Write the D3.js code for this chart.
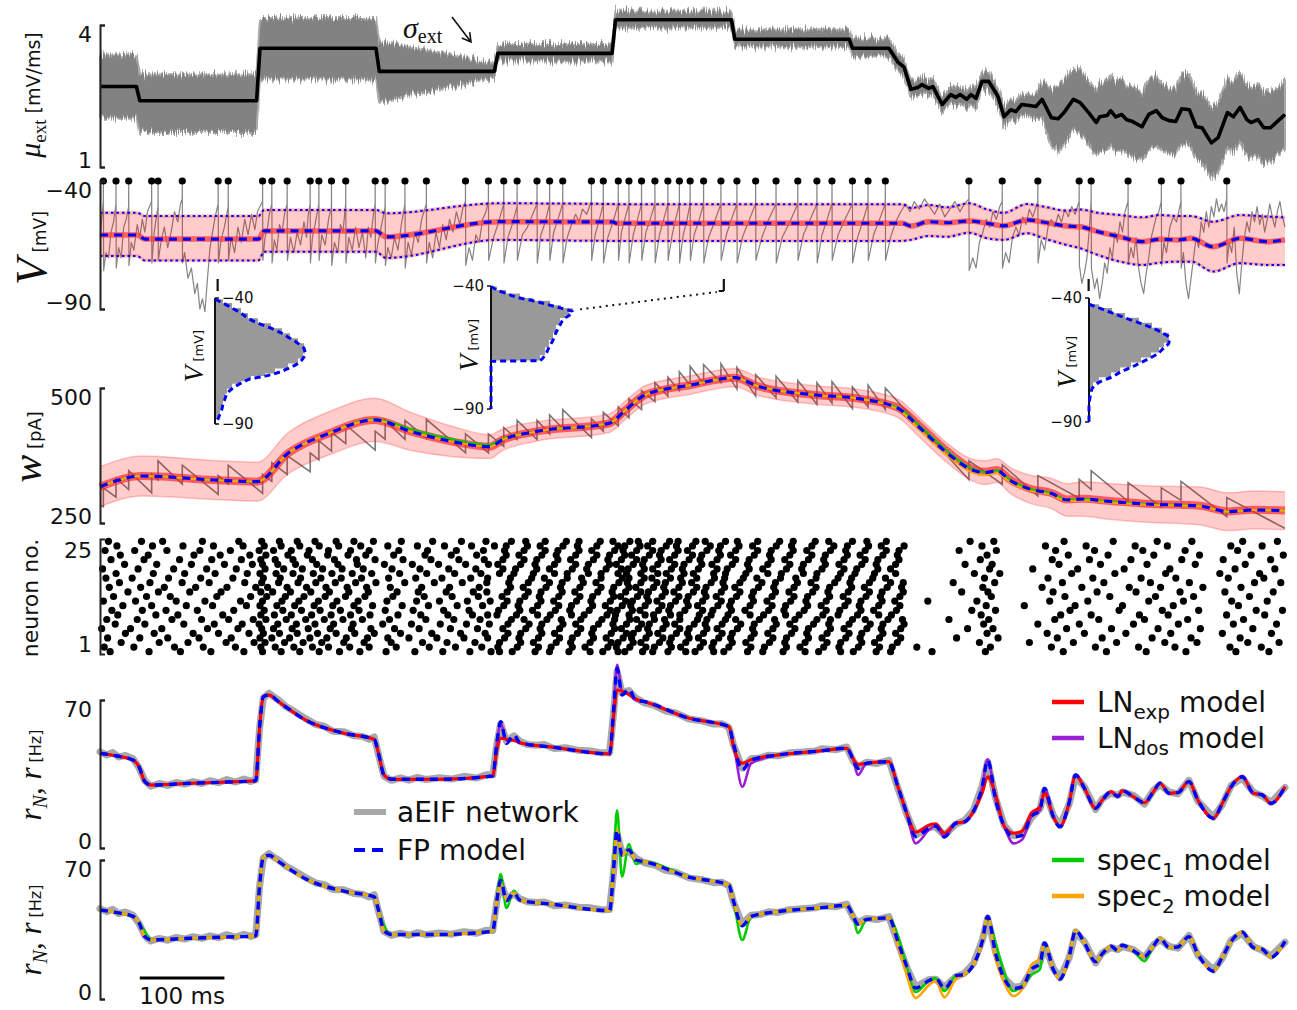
<!DOCTYPE html>
<html>
<head>
<meta charset="utf-8">
<title>aEIF network: input, membrane potential, adaptation, spikes and rates</title>
<script src="https://cdn.jsdelivr.net/npm/d3@7"></script>
<style>
  html, body { margin: 0; padding: 0; background: #fff; }
  svg { display: block; }
</style>
</head>
<body>
<svg id="fig" width="1297" height="1010">
  <defs>
    <!-- ragged vertical edges for the fast-fluctuating input band -->
    <filter id="ragged" x="-2%" y="-25%" width="104%" height="150%">
      <feTurbulence type="fractalNoise" baseFrequency="0.9 0.04" numOctaves="2" seed="7" result="t"/>
      <feColorMatrix in="t" type="matrix" values="0 0 0 0 0.5  0 1 0 0 0  0 0 1 0 0  0 0 0 0 1" result="m"/>
      <feDisplacementMap in="SourceGraphic" in2="m" scale="16" xChannelSelector="R" yChannelSelector="G"/>
    </filter>
  </defs>
</svg>
<script>
// ===================== data (time in ms) =====================

// external input: mean drive mu_ext [mV/ms] and the spread of the noisy input
const muT = [0,43,47,185,189,326,330,466,470,605,609,746,750,885,889,932,
  943,950,958,966,971,979,984,995,1005,1011,1016,1024,1029,1035,1042,1050,1061,1068,1076,1082,
  1089,1098,1106,1113,1124,1132,1139,1150,1158,1168,1177,1181,1190,1194,1200,1207,1213,1220,1231,1239,
  1248,1255,1263,1271,1278,1287,1295,1302,1313,1321,1332,1339,1347,1355,1360,1368,1375,1383,1392,1400];
const muMean = [2.70,2.70,2.40,2.40,3.51,3.51,3.02,3.02,3.40,3.40,4.11,4.11,3.70,3.70,3.51,3.51,
  3.21,3.11,2.64,2.68,2.74,2.66,2.70,2.32,2.53,2.47,2.53,2.43,2.53,2.45,2.81,2.81,2.49,2.06,2.21,2.17,
  2.32,2.30,2.28,2.43,2.04,2.02,2.15,2.43,2.36,2.15,1.94,2.06,2.09,2.19,2.06,2.11,2.00,1.96,1.85,2.11,
  2.19,2.04,1.98,1.96,2.23,2.21,1.85,1.83,1.51,1.62,2.15,2.06,2.26,2.00,1.94,2.00,1.83,1.83,1.98,2.11];
const muHi = [3.38,3.38,2.96,2.96,4.15,4.15,3.66,3.21,3.60,3.60,4.30,4.30,3.91,3.91,3.72,3.72,
  3.39,3.29,2.82,2.86,2.92,2.84,2.88,2.50,2.71,2.65,2.71,2.61,2.71,2.63,3.01,3.01,2.69,2.28,2.43,2.39,
  2.54,2.55,2.55,2.83,2.64,2.72,2.85,3.08,3.04,2.85,2.64,2.81,2.84,2.94,2.81,2.86,2.70,2.71,2.55,2.86,
  2.94,2.74,2.68,2.66,2.98,2.96,2.55,2.58,2.26,2.37,2.90,2.81,3.01,2.75,2.69,2.75,2.58,2.58,2.68,2.86];
const muLo = [2.04,2.04,1.74,1.74,2.85,2.85,2.36,2.89,3.23,3.23,3.94,3.94,3.53,3.53,3.34,3.34,
  3.03,2.93,2.46,2.50,2.56,2.48,2.52,2.14,2.35,2.29,2.35,2.25,2.35,2.27,2.61,2.61,2.29,1.84,1.99,1.95,
  2.10,2.05,2.01,2.03,1.44,1.32,1.45,1.78,1.68,1.45,1.24,1.31,1.34,1.44,1.31,1.36,1.30,1.21,1.15,1.36,
  1.44,1.34,1.28,1.26,1.48,1.46,1.15,1.08,0.76,0.87,1.40,1.31,1.51,1.25,1.19,1.25,1.08,1.08,1.28,1.36];

// population membrane potential: mean and +/- one standard deviation [mV]
const vStatT = [0,44,53,187,194,326,338,471,606,610,948,958,979,1001,1027,1048,1068,1095,1115,1142,1158,1179,1205,1231,1252,1274,1289,1315,1347,1379,1400];
const vMean = [-61.1,-61.1,-62.7,-62.7,-59.5,-59.5,-61.8,-55.9,-56.0,-56.5,-56.5,-57.6,-55.9,-56.3,-55.6,-56.5,-57.5,-55.2,-56.1,-57.6,-57.9,-59.8,-61.8,-63.7,-62.8,-63.0,-62.4,-65.7,-62.4,-63.7,-63.0];
const vHi = [-52.4,-52.4,-53.7,-53.7,-51.3,-51.3,-52.6,-48.7,-49.0,-49.1,-49.1,-50.5,-49.4,-50.3,-48.7,-51.1,-52.4,-49.0,-50.0,-51.6,-51.1,-52.4,-53.3,-54.2,-53.3,-53.7,-53.7,-55.9,-53.3,-53.9,-54.2];
const vLo = [-69.3,-69.3,-71.1,-71.1,-67.6,-67.6,-70.1,-63.0,-63.4,-63.4,-63.4,-63.0,-61.5,-61.8,-60.2,-62.4,-63.0,-60.4,-62.4,-65.0,-66.3,-68.9,-71.5,-72.8,-71.9,-71.5,-71.5,-75.4,-72.1,-72.8,-72.8];

// one example neuron: spike times and membrane potential trace [ms, mV]
const vSpikes = [4.0,18.9,33.9,61.0,68.6,97.2,139.6,151.5,192.1,203.0,221.1,248.3,258.6,273.5,290.3,325.1,336.9,360.3,385.6,431.8,458.9,
  477.0,492.8,516.3,531.2,546.7,580.6,594.6,612.3,624.9,639.8,655.6,670.9,684.5,697.2,713.1,733.6,752.5,774.6,798.7,824.4,847.0,864.8,
  888.9,907.4,927.8,1026.6,1065.9,1108.0,1156.8,1171.0,1214.6,1253.9,1277.1,1331.2];
const vTrace = [
  [0,-62],[2,-55],[3.9,-48],[4,-40],[4.3,-75],[7,-68],[10,-70],[13,-60],[16,-56],[18.8,-49],[18.9,-40],[19.2,-74],[22,-66],[25,-70],[28,-58],[31,-55],[33.8,-50],[33.9,-40],
  [34.2,-73],[37,-64],[40,-67],[44,-57],[47,-62],[50,-55],[53,-60],[56,-52],[60.9,-48],[61,-40],[61.3,-72],[64,-60],[68.5,-50],[68.6,-40],[68.9,-71],[72,-64],[76,-58],
  [80,-66],[84,-60],[88,-52],[92,-56],[95,-49],[97.1,-47],[97.2,-40],[97.5,-72],[100,-68],[104,-78],[108,-74],[112,-84],[115,-80],[118,-90],[121,-86],[124,-91],[127,-78],
  [130,-66],[133,-60],[136,-54],[139.5,-49],[139.6,-40],[139.9,-72],[143,-63],[147,-58],[151.4,-50],[151.5,-40],[151.8,-71],[155,-62],[159,-68],[163,-58],[167,-64],
  [171,-55],[175,-61],[179,-53],[183,-59],[186,-52],[189,-50],[192,-48],[192.1,-40],
  [192.4,-71],[195,-62],[198,-58],[200,-53],[202.9,-49],[203,-40],[203.3,-72],[206,-63],[209,-67],[212,-57],[215,-60],[218,-53],[221,-49],[221.1,-40],[221.4,-71],
  [225,-62],[229,-68],[233,-60],[237,-65],[241,-56],[244,-62],[246,-53],[248.2,-49],[248.3,-40],[248.6,-72],[251,-62],[254,-57],[258.5,-49],[258.6,-40],[258.9,-71],
  [262,-61],[266,-65],[270,-55],[273.4,-50],[273.5,-40],[273.8,-73],[277,-64],[281,-68],[284,-57],[287,-60],[290.2,-49],[290.3,-40],[290.6,-72],[294,-62],[298,-67],
  [302,-58],[306,-66],[310,-60],[314,-70],[317,-58],[320,-62],[323,-53],[325,-49],[325.1,-40],
  [325.4,-72],[328,-65],[331,-60],[334,-55],[336.8,-50],[336.9,-40],[337.2,-73],[340,-66],[344,-70],[348,-62],[352,-67],[356,-57],[360.2,-49],[360.3,-40],[360.6,-74],
  [364,-64],[368,-69],[372,-60],[376,-64],[380,-55],[385.5,-49],[385.6,-40],[385.9,-72],[389,-64],[393,-70],[397,-60],[401,-66],[405,-57],[409,-63],[413,-55],[417,-60],
  [421,-52],[425,-57],[429,-50],[431.7,-48],[431.8,-40],[432.1,-73],[436,-66],[440,-71],[444,-61],[448,-64],[452,-55],[456,-52],[458.8,-48],[458.9,-40],
  [459.2,-71],[465,-62],[471,-56],[476.9,-49],[477,-40],[477.3,-72],[482,-62],[487,-57],[492.7,-50],[492.8,-40],[493.1,-71],[499,-61],[505,-58],[510,-54],[516.2,-49],[516.3,-40],
  [516.6,-72],[521,-61],[526,-56],[531.1,-49],[531.2,-40],[531.5,-71],[536,-60],[541,-55],[546.6,-49],[546.7,-40],[547,-72],[552,-62],[557,-57],[562,-53],[566,-56],
  [570,-51],[575,-53],[580.5,-48],[580.6,-40],[580.9,-71],[585,-61],[590,-55],[594.5,-49],[594.6,-40],[594.9,-72],[600,-62],[606,-56],[612.2,-49],[612.3,-40],
  [612.6,-71],[616,-60],[620,-55],[624.8,-49],[624.9,-40],[625.2,-72],[630,-61],[635,-55],[639.7,-49],[639.8,-40],[640.1,-71],[645,-60],[650,-55],[655.5,-49],[655.6,-40],
  [655.9,-72],[661,-61],[666,-55],[670.8,-49],[670.9,-40],[671.2,-71],[676,-61],[680,-55],[684.4,-49],[684.5,-40],[684.8,-72],[689,-61],[693,-56],[697.1,-49],[697.2,-40],
  [697.5,-71],[702,-61],[708,-55],[713,-49],[713.1,-40],[713.4,-72],[719,-62],[726,-56],[733.5,-49],[733.6,-40],[733.9,-71],[740,-61],[746,-55],[752.4,-49],[752.5,-40],
  [752.8,-72],[759,-62],[766,-56],[774.5,-49],[774.6,-40],[774.9,-71],[782,-62],[790,-55],[798.6,-49],[798.7,-40],[799,-72],[806,-62],[815,-56],[824.3,-49],[824.4,-40],
  [824.7,-71],[831,-61],[839,-55],[846.9,-49],[847,-40],[847.3,-72],[853,-61],[859,-55],[864.7,-49],[864.8,-40],[865.1,-71],[872,-61],[880,-55],[888.8,-49],[888.9,-40],
  [889.2,-72],[895,-62],[901,-56],[907.3,-49],[907.4,-40],[907.7,-71],[914,-61],[921,-55],[927.7,-49],[927.8,-40],
  [928.1,-71],[934,-62],[940,-56],[946,-52],[952,-49],[957,-52],[962,-48],[968,-51],[974,-47],[980,-50],[986,-53],[992,-49],[998,-54],[1004,-51],[1010,-48],[1016,-52],
  [1021,-49],[1026.5,-47],[1026.6,-40],[1026.9,-75],[1031,-70],[1035,-74],[1039,-64],[1043,-60],[1047,-55],[1051,-58],[1055,-52],[1059,-55],[1063,-50],[1065.8,-48],[1065.9,-40],
  [1066.2,-74],[1070,-68],[1074,-72],[1078,-62],[1082,-58],[1086,-61],[1090,-54],[1094,-57],[1098,-51],[1102,-54],[1107.9,-48],[1108,-40],
  [1108.3,-72],[1112,-63],[1116,-67],[1120,-58],[1124,-55],[1128,-58],[1132,-53],[1136,-56],[1140,-51],[1144,-54],[1148,-50],[1152,-53],[1156.7,-48],[1156.8,-40],
  [1157.1,-73],[1160,-80],[1163,-76],[1166,-70],[1169,-58],[1170.9,-48],[1171,-40],
  [1171.3,-74],[1175,-82],[1178,-78],[1181,-86],[1184,-80],[1187,-72],[1190,-76],[1193,-66],[1196,-70],[1199,-60],[1202,-64],[1205,-56],[1208,-60],[1211,-52],[1214.5,-48],[1214.6,-40],
  [1214.9,-72],[1218,-66],[1221,-70],[1224,-62],[1227,-74],[1230,-80],[1233,-84],[1236,-76],[1239,-70],[1242,-62],[1245,-58],[1248,-54],[1251,-52],[1253.8,-48],[1253.9,-40],
  [1254.2,-73],[1257,-64],[1260,-68],[1264,-58],[1268,-54],[1272,-56],[1277,-48],[1277.1,-40],
  [1277.4,-74],[1280,-68],[1283,-80],[1286,-86],[1289,-78],[1292,-70],[1295,-62],[1298,-66],[1301,-56],[1304,-60],[1307,-52],[1310,-58],[1313,-50],[1316,-54],[1319,-47],
  [1322,-52],[1325,-49],[1328,-52],[1331.1,-47],[1331.2,-40],
  [1331.5,-72],[1334,-64],[1337,-68],[1340,-58],[1343,-76],[1346,-84],[1349,-72],[1352,-62],[1355,-56],[1358,-60],[1361,-52],[1364,-56],[1367,-50],[1370,-57],[1373,-53],
  [1376,-60],[1379,-55],[1382,-49],[1385,-54],[1388,-58],[1391,-52],[1394,-48],[1397,-54],[1400,-58]
];

// membrane-potential distributions at three snapshot times (density per mV)
const snapshotT = [139, 737, 1168];
const histV1 = [-40.5,-42,-44,-46,-48,-50,-52,-54,-56,-58,-60,-62,-64,-66,-68,-70,-71,-72,-73,-74,-76,-78,-80,-82,-84,-86,-88,-90];
const histP1 = [0,.008,.017,.026,.033,.043,.056,.067,.075,.083,.089,.090,.088,.083,.073,.060,.050,.036,.030,.025,.017,.012,.010,.008,.007,.005,.003,0];
const histV2 = [-40.2,-41.6,-43,-44.9,-46,-47.8,-49,-50.6,-52,-53,-55.9,-59,-62,-65,-68.1,-70.3,-70.6,-90];
const histP2 = [0,.006,.015,.029,.042,.059,.070,.082,.078,.074,.069,.065,.062,.058,.054,.049,0,0];
const histV3 = [-42.5,-44,-46,-48,-50,-52,-54,-56,-58,-60,-62,-64,-66,-68,-70,-72,-74,-76,-78,-80,-84,-90];
const histP3 = [0,.010,.023,.036,.050,.063,.073,.080,.080,.075,.070,.062,.052,.042,.031,.022,.010,.004,.002,.001,0,0];

// adaptation current w [pA]: population mean (per model), spread, and the example neuron
const wT = [0,49.6,134.7,185.5,222.1,270.6,324.3,368.0,416.7,460.4,475.0,514.0,601.4,620.9,643.9,698.3,749.9,776.7,845.1,893.9,
  942.8,967.2,1001.3,1030.6,1045.3,1059.8,1074.6,1098.8,1123.4,1142.5,1162.6,1186.8,1235.8,1299.2,1333.3,1362.3,1400];
const wMean = [317.2,337.0,329.6,326.5,379.1,416.1,440.8,419.1,400.6,391.3,403.7,419.1,434.6,459.3,487.1,505.6,519.1,503.7,487.1,480.9,
  462.4,428.3,379.1,348.2,343.2,346.9,329.6,312.4,305.0,292.6,294.4,290.7,285.2,281.5,270.9,274.1,272.8];
const wHi = [354.2,374.0,365.6,362.5,417.1,456.1,480.8,454.1,428.6,413.3,423.7,437.1,451.6,476.3,504.1,522.6,536.1,520.7,504.1,497.9,
  479.4,446.3,397.1,368.2,365.2,368.9,353.6,338.4,333.0,322.6,326.4,323.7,319.2,316.5,305.9,309.1,307.8];
const wLo = [280.2,300.0,293.6,290.5,341.1,376.1,400.8,384.1,372.6,369.3,383.7,401.1,417.6,442.3,470.1,488.6,502.1,486.7,470.1,463.9,
  445.4,410.3,361.1,328.2,321.2,324.9,305.6,286.4,277.0,262.6,262.4,257.7,251.2,246.5,235.9,239.1,237.8];
const wLNexp = [317.2,337.0,329.6,326.5,379.1,416.1,440.8,419.1,400.6,391.3,403.7,419.1,434.6,459.3,487.1,505.6,519.1,503.7,487.1,480.9,
  463.5,431.5,382.5,350.0,344.8,348.0,331.0,313.5,306.0,293.5,295.0,291.5,285.8,282.0,271.5,274.5,273.0];
const wSpec1 = [317.2,337.0,329.6,326.5,379.1,416.1,442.3,423.5,405.0,395.0,405.5,419.1,434.6,459.3,487.1,505.6,519.1,503.7,487.1,480.9,
  463.5,432.0,383.0,350.5,344.5,347.5,330.5,313.0,305.5,293.0,294.4,290.7,285.2,281.5,270.9,274.1,272.8];
const wSpec2 = [317.2,337.0,329.6,326.5,379.1,416.1,440.8,419.1,400.6,391.3,403.7,419.1,434.6,459.3,487.1,505.6,519.1,503.7,487.1,480.9,
  461.0,424.0,374.5,343.5,338.5,342.5,326.0,309.5,302.5,290.5,292.0,288.8,284.0,281.0,270.9,274.1,272.8];
const wTrace = [[0,283],[4,280],[4,315],[18.9,298],[18.9,333],[33.9,312],[33.9,347],[61,306],[61,341],[68.6,330],[68.6,365],[97.2,322],[97.2,357],
  [139.6,303],[139.6,338],[151.5,322],[151.5,357],[192.1,305],[192.1,340],[203,327],[203,362],[221.1,340],[221.1,375],[248.3,345],[248.3,380],
  [258.6,367],[258.6,402],[273.5,383],[273.5,418],[290.3,397],[290.3,432],[325.1,385],[325.1,420],[336.9,405],[336.9,440],[360.3,405],[360.3,440],
  [385.6,407],[385.6,442],[431.8,380],[431.8,415],[458.9,380],[458.9,415],[477,392],[477,427],[492.8,405],[492.8,440],[516.3,405],[516.3,440],
  [531.2,415],[531.2,450],[546.7,425],[546.7,460],[580.6,408],[580.6,443],[594.6,420],[594.6,455],[612.3,430],[612.3,465],[624.9,445],[624.9,480],
  [639.8,460],[639.8,495],[655.6,475],[655.6,510],[670.9,485],[670.9,520],[684.5,495],[684.5,530],[697.2,505],[697.2,540],[713.1,508],[713.1,543],
  [733.6,510],[733.6,545],[752.5,498],[752.5,538],[774.6,485],[774.6,525],[798.7,482],[798.7,522],[824.4,474],[824.4,514],[847,470],[847,510],
  [864.8,472],[864.8,512],[888.9,462],[888.9,502],[907.4,465],[907.4,505],[927.8,460],[927.8,500],[1026.6,330],[1026.6,365],[1065.9,322],[1065.9,358],
  [1108,300],[1108,338],[1156.8,296],[1156.8,331],[1171,312],[1171,347],[1214.6,290],[1214.6,325],[1253.9,280],[1253.9,315],[1277.1,292],[1277.1,327],
  [1331.2,262],[1331.2,297],[1400,240]];

// spike times of 25 recorded neurons (neuron 1 first)
const rasterSpikes = [
  [12,58,95,131,170,192,214,236,259,283,307,338,372,405,437,462,472,487,514,531,554,579,594,612,620,641,653,671,692,703,725,737,765,783,807,833,849,875,890,917,934,983,1046,1138,1189,1236,1283,1342,1381],
  [5,40,88,122,160,190,207,229,251,270,295,318,350,389,420,451,470,493,518,533,558,573,600,610,626,645,655,675,686,709,723,743,769,785,811,827,855,873,896,921,936,965,1052,1124,1176,1227,1270,1335,1372],
  [25,70,104,149,182,195,218,240,262,288,312,344,381,410,443,472,497,512,539,556,579,604,612,630,639,661,673,692,713,725,747,763,791,809,833,859,875,900,915,942,1039,1098,1150,1201,1258,1296,1356,1393],
  [9,47,80,117,155,189,203,224,248,268,291,316,340,365,398,430,458,478,495,518,543,558,583,598,618,628,645,665,675,696,707,731,745,769,795,811,837,853,881,898,921,946,1012,1061,1131,1184,1243,1289,1347],
  [30,64,110,140,176,193,212,233,257,279,301,324,355,392,426,455,482,497,522,537,564,581,604,622,630,649,659,681,694,713,735,747,773,789,817,835,859,885,900,925,940,1048,1119,1163,1212,1265,1326,1384],
  [2,36,73,127,163,191,205,227,246,272,297,320,348,377,414,446,476,503,520,543,568,583,608,616,636,647,665,685,696,717,729,753,771,795,821,837,863,879,906,923,946,1025,1055,1142,1195,1250,1300,1362],
  [18,53,99,135,168,188,210,232,254,276,299,334,368,402,433,460,482,507,522,547,562,589,606,622,640,649,669,679,702,715,735,757,773,799,815,843,861,885,910,925,950,1044,1108,1157,1221,1274,1339,1390],
  [8,44,85,120,152,181,196,220,243,265,287,310,342,385,418,449,486,501,528,545,568,593,608,626,634,655,667,685,706,717,739,751,779,797,821,847,863,889,904,931,948,1003,1050,1128,1180,1234,1285,1351],
  [21,66,92,145,190,206,226,250,273,296,319,352,379,411,440,458,469,492,517,532,557,572,599,609,625,644,654,674,685,708,722,742,768,784,810,826,854,872,895,920,935,1041,1135,1171,1228,1262,1331,1376],
  [14,50,78,115,158,194,216,238,260,284,306,337,370,406,436,471,496,511,538,555,578,603,611,629,638,660,672,691,712,724,746,762,790,808,832,858,874,899,914,941,1030,1058,1146,1204,1255,1298,1366,1397],
  [27,61,102,133,173,189,209,230,253,275,300,322,357,388,422,452,477,494,517,542,557,582,597,617,627,644,664,674,695,706,730,744,768,794,810,836,852,880,897,920,945,1047,1092,1152,1208,1268,1345],
  [4,42,90,124,166,192,215,235,258,280,305,339,374,401,434,461,481,496,521,536,563,580,603,621,629,648,658,680,693,712,734,746,772,788,816,834,858,884,899,924,939,978,1036,1122,1167,1239,1280,1337,1379],
  [16,55,83,138,178,197,219,241,266,290,313,346,383,416,447,475,502,519,542,567,582,607,615,635,646,664,684,695,716,728,752,770,794,820,836,862,878,905,922,945,1053,1140,1193,1247,1292,1358],
  [33,69,106,143,190,204,225,249,271,294,317,351,376,409,441,457,481,506,521,546,561,588,605,621,639,648,668,678,701,714,734,756,772,798,814,842,860,884,909,924,949,1018,1049,1126,1178,1224,1276,1329,1386],
  [11,48,76,113,150,184,198,221,244,267,292,315,343,380,413,448,485,500,527,544,567,592,607,625,633,654,666,684,705,716,738,750,778,796,820,846,862,888,903,930,947,1043,1113,1160,1216,1253,1303,1348],
  [23,59,97,129,171,191,211,234,255,278,302,326,360,395,428,457,483,506,531,546,571,586,613,623,639,658,668,688,699,722,736,756,782,798,824,840,868,886,909,934,949,1008,1057,1137,1186,1241,1287,1364,1395],
  [7,38,81,119,157,193,213,237,261,285,309,341,373,404,438,458,485,510,525,552,569,592,617,625,643,652,674,686,705,726,738,760,776,804,822,846,872,888,913,928,1045,1120,1173,1230,1271,1333,1375],
  [19,63,100,136,174,189,208,228,252,274,298,321,354,386,419,450,472,489,512,537,552,577,592,612,622,639,659,669,690,701,725,739,763,789,805,831,847,875,892,915,940,1033,1063,1148,1199,1259,1323,1370],
  [3,45,87,126,161,195,217,239,263,286,311,345,378,412,444,476,491,516,531,558,575,598,616,624,643,653,675,688,707,729,741,767,783,811,829,853,879,894,919,934,1051,1102,1155,1210,1264,1341,1388],
  [29,67,108,147,180,192,210,231,256,281,304,336,369,400,432,459,470,497,514,537,562,577,602,610,630,641,659,679,690,711,723,747,765,789,815,831,857,873,900,917,940,1022,1054,1133,1182,1237,1294,1353],
  [13,52,94,132,167,190,207,228,251,277,303,325,358,391,424,454,476,501,516,541,556,583,600,616,634,643,663,673,696,709,729,751,767,793,809,837,855,879,904,919,944,1040,1125,1169,1218,1278,1327,1383],
  [24,57,111,142,177,196,222,245,269,293,314,347,384,415,445,480,495,522,539,562,587,602,620,628,649,661,679,700,711,733,745,773,791,815,841,857,883,898,925,942,1048,1144,1191,1245,1299,1360,1398],
  [6,41,79,118,154,188,205,226,247,270,296,318,353,387,421,453,478,501,526,541,566,581,608,618,634,653,663,683,694,717,731,751,777,793,819,835,863,881,904,929,944,1015,1059,1129,1175,1232,1282,1344],
  [20,62,98,134,169,194,214,236,259,282,308,340,375,407,439,466,480,505,520,547,564,587,612,620,638,647,669,681,700,721,733,755,771,799,817,841,867,883,908,923,950,1042,1117,1165,1223,1261,1336,1373],
  [10,49,74,121,164,191,212,233,254,279,300,323,356,393,427,456,486,503,526,551,566,591,606,626,636,653,673,683,704,715,739,753,777,803,819,845,861,889,906,929,1028,1056,1139,1197,1249,1290,1350,1391]
];

// population firing rate [Hz]: network (aEIF) and the reduced models
const netRate = [[0,45.5],[8,44],[15,45.2],[22,43],[30,43.8],[39,42.2],[46,38],[53,31.8],[60,29.2],[70,30.5],[80,29.6],[90,31],[100,30.2],[110,31.4],
  [120,30.5],[130,31.8],[140,30.9],[150,32.4],[160,31.2],[170,32.6],[178,31.5],[184,32.3],[188.6,57],[193,71],[199.7,73.2],[205,71.5],[211,70],[220,66.8],
  [230,64.5],[243,61.2],[255,58.4],[265,57.6],[275,55.2],[288,55],[300,53.1],[310,52.8],[318,51.4],[324,52.5],[329,44.2],[335.5,34],[344.5,32],[355,33.2],
  [365,32.1],[375,33.4],[385,32.4],[401,33.2],[415,32.6],[430,33.9],[445,33.1],[456,34.6],[464,34.5],[468.8,49],[473.4,58.8],[480.2,50.5],[489,53],[496,50.5],
  [505,49],[515,48.6],[525,48.9],[536.6,47],[550,47.4],[565,46.2],[580,45.9],[592,45],[602,45.1],[606.8,64],[610.9,83.5],[616.7,73.5],[624.9,74.5],[632.8,71],
  [643.2,68.6],[655,67.5],[668,64.8],[680,63.9],[695.8,61],[710,60.2],[725,58.6],[735,58.8],[743,57],[748.3,49],[758.8,37.8],[769.3,42.2],[780,42.6],[790,43.9],
  [800.8,43.6],[815,45],[830,45.4],[845,45.9],[853.3,47],[870,46.5],[882.2,47.8],[890,41],[895.3,38.4],[905.9,40.6],[918,40],[932,41.5],[942.6,28.4],[953.1,16],
  [963.6,6],[979.4,9.8],[987.3,10],[997.7,6],[1010.9,11.2],[1021.3,13],[1031.8,17.8],[1042.3,29.5],[1048.7,40.8],[1058.2,23.4],[1068.5,10.6],[1079.1,5.8],
  [1089.6,6.6],[1100.1,14.2],[1110.6,18.6],[1115.8,27.4],[1126.3,15.4],[1134.2,10.6],[1144.8,20.6],[1152.7,33.8],[1163.1,28.8],[1176.3,18.2],[1184.1,23.2],
  [1194.6,26],[1202.5,24.8],[1207.7,26.5],[1220.8,24.9],[1233.9,20.8],[1244.5,27.2],[1252.4,30],[1262.9,26.5],[1273.4,25.6],[1286.5,32],[1297,22.2],[1315.4,14.6],
  [1325.9,20.5],[1336.4,29.6],[1349.5,33.1],[1362.6,26.4],[1373.1,24.6],[1383.6,21.6],[1400,28.6]];

const rateT = [0,20,39,46,53,60,107,150,184,188.6,193,199.7,211,243,288,324,329,335.5,344.5,401,464,468.8,473.4,480.2,489,496,536.6,602,606.8,610.9,
  616.7,624.9,632.8,643.2,695.8,743,748.3,758.8,769.3,800.8,853.3,882.2,890,895.3,905.9,932,942.6,953.1,963.6,979.4,987.3,997.7,1010.9,1021.3,1031.8,
  1042.3,1048.7,1058.2,1068.5,1079.1,1089.6,1100.1,1110.6,1115.8,1126.3,1134.2,1144.8,1152.7,1163.1,1176.3,1184.1,1194.6,1202.5,1207.7,1220.8,1233.9,
  1244.5,1252.4,1262.9,1273.4,1286.5,1297,1315.4,1325.9,1336.4,1349.5,1362.6,1373.1,1383.6,1400];
const rateFP = [44.8,43.5,41.6,38.5,31.4,29.8,30.6,31.2,31.8,57.4, 71.6,72.4,69.2,60.5,54.3,51.4,44.8,34.5,32.5,32.5, 34.1,49.5,59.7,49.5,53.5,49.8,47.6,44.5,65.3,85.0,
  72.4,75.1,70.0,69.2,61.4,57.4,49.5,36.9,41.6,44.0, 46.0,47.2,41.6,37.7,40.1,40.8,29.0,16.4,5.5,9.3, 10.4,5.3,11.7,12.4,17.2,29.0,41.6,22.7,10.1,5.3,
  6.1,14.8,18.0,28.2,14.8,10.1,21.1,34.5,28.2,18.8, 22.7,26.6,24.3,27.1,24.3,21.4,26.6,30.6,25.9,26.2, 31.4,22.7,14.1,21.1,29.0,33.7,25.9,25.1,21.1,29.0];
const rateLNexp = [44.8,43.5,41.6,38.5,31.4,29.8,30.6,31.2,31.8,57.4, 71.6,72.4,69.2,60.5,54.3,51.4,44.8,34.5,32.5,32.5, 34.1,46.0,51.9,51.5,50.8,49.8,47.6,44.5,62.0,74.7,
  74.2,72.5,70.5,69.2,61.4,57.4,48.0,40.1,41.8,44.0, 46.0,47.2,42.0,39.5,40.1,40.8,29.0,16.4,7.5,10.8, 11.5,7.0,11.7,12.4,17.2,26.0,33.7,25.0,10.1,7.0,
  8.0,16.5,19.5,26.0,14.8,10.1,21.1,34.5,28.2,18.8, 22.7,26.6,24.3,27.1,24.3,21.4,26.6,30.6,25.9,26.2, 31.4,22.7,14.1,21.1,29.0,33.7,25.9,25.1,21.1,29.0];
const rateLNdos = [44.8,43.5,41.6,38.5,31.4,29.8,30.6,31.2,31.8,57.4, 71.6,72.4,69.2,60.5,54.3,51.4,44.8,34.5,32.5,32.5, 34.1,49.5,59.0,51.0,51.0,49.8,47.6,44.5,65.3,86.6,
  74.0,73.0,70.0,69.2,61.4,57.4,49.5,29.0,40.0,44.0, 46.0,47.2,41.6,34.5,40.1,40.8,29.0,16.4,2.2,8.5, 10.4,5.3,11.7,12.4,17.2,29.0,42.0,22.7,10.1,2.2,
  4.0,14.8,18.0,28.2,14.8,10.1,21.1,34.5,28.2,18.8, 22.7,26.6,24.3,27.1,24.3,21.4,26.6,30.6,25.9,26.2, 31.4,22.7,14.1,21.1,29.0,33.7,25.9,25.1,21.1,29.0];
const rateSpec1 = [44.8,43.5,41.6,38.5,34.0,29.8,30.6,31.2,31.8,57.4, 71.6,72.4,69.2,60.5,54.3,51.4,44.8,37.0,32.5,32.5, 34.1,49.5,62.9,45.8,54.5,49.8,47.6,44.5,70.0,95.0,
  61.6,78.0,68.0,69.2,61.4,57.4,49.5,29.7,41.6,44.0, 46.0,47.2,41.6,33.2,40.1,40.8,32.0,16.4,3.5,9.3, 10.4,4.0,11.7,12.4,17.2,29.0,40.0,28.0,13.0,4.0,
  6.5,12.0,15.0,28.2,14.8,10.1,21.1,34.5,28.2,18.8, 22.7,26.6,24.3,27.1,24.3,19.0,26.6,30.6,25.9,26.2, 31.4,22.7,14.1,21.1,29.0,33.7,25.9,25.1,21.1,29.0];
const rateSpec2 = [44.8,43.5,41.6,38.5,31.4,29.8,30.6,31.2,31.8,57.4, 71.6,72.4,69.2,60.5,54.3,51.4,44.8,34.5,32.5,32.5, 34.1,49.5,58.0,50.0,53.5,49.8,47.6,44.5,65.3,85.0,
  72.4,75.1,70.0,69.2,61.4,57.4,49.5,36.9,41.6,44.0, 46.0,47.2,41.6,37.7,40.1,40.8,27.0,12.0,0.5,7.0, 9.0,0.8,10.0,12.4,17.2,29.0,41.6,20.0,8.0,1.5,
  5.0,17.0,20.5,28.2,14.8,10.1,21.1,34.5,28.2,18.8, 22.7,26.6,24.3,27.1,24.3,21.4,26.6,30.6,25.9,26.2, 31.4,22.7,14.1,21.1,29.0,33.7,25.9,25.1,21.1,29.0];

// axis ticks and annotations
const muTicks = [1, 4], vTicks = [-90, -40], wTicks = [250, 500], neuronTicks = [1, 25], rateTicks = [0, 70];
const scaleBar = { start: 47, length: 100, label: "100 ms" };
const legendLeft = ["aEIF network", "FP model"];
const legendTop = [["LN", "exp"], ["LN", "dos"]];
const legendBottom = [["spec", "1"], ["spec", "2"]];

// ===================== drawing =====================
const svg = d3.select("#fig");
const SANS = "DejaVu Sans", MATH = "Liberation Serif";
const COL = { net: "#a8a8a8", fp: "#0000ff", lnExp: "#ff0000", lnDos: "#9b1fd6", spec1: "#00cc00", spec2: "#ffa500", noise: "#828282" };

const x = d3.scaleLinear().domain([0, 1400]).range([100, 1285]);
const yMu = d3.scaleLinear().domain([1, 4]).range([167, 25]);
const yV = d3.scaleLinear().domain([-90, -40]).range([309, 181]);
const yW = d3.scaleLinear().domain([250, 500]).range([523, 388]);
const yN = d3.scaleLinear().domain([0.5, 25.5]).range([654, 539]);
const yR1 = d3.scaleLinear().domain([0, 70]).range([848, 700]);
const yR2 = d3.scaleLinear().domain([0, 70]).range([999, 860]);

const zip = (ts, ...cols) => ts.map((t, i) => [t, ...cols.map(c => c[i])]);
const lineOf = (ys, curve) => d3.line().x(d => x(d[0])).y(d => ys(d[1])).curve(curve || d3.curveLinear);
const bandOf = (ys, curve) => d3.area().x(d => x(d[0])).y0(d => ys(d[1])).y1(d => ys(d[2])).curve(curve || d3.curveLinear);

function drawPath(data, gen, attrs) {
  const p = svg.append("path").datum(data).attr("d", gen).attr("fill", "none");
  Object.entries(attrs).forEach(([k, v]) => p.attr(k, v));
  return p;
}

// bracket-style left axis with inward ticks; top label hangs below its tick, bottom label sits on its tick
function leftAxis(scale, ticks, inner) {
  const top = ticks[1];
  const g = svg.append("g").attr("transform", "translate(100,0)");
  g.call(d3.axisLeft(scale).tickValues(ticks).tickFormat(d3.format("d"))
    .tickSizeInner(inner).tickSizeOuter(-5).tickPadding(8));
  g.select(".domain").attr("stroke", "#222").attr("stroke-width", 2);
  g.selectAll(".tick line").attr("stroke", "#222").attr("stroke-width", 2);
  g.selectAll(".tick text").attr("font-family", SANS).attr("font-size", 22).attr("fill", "#111")
    .attr("dy", d => (d === top ? "0.74em" : "0em"));
}

function rotatedLabel(cx, cy, parts) {
  const t = svg.append("text").attr("transform", `translate(${cx},${cy}) rotate(-90)`)
    .attr("text-anchor", "middle").attr("fill", "#111");
  parts.forEach(p => {
    t.append("tspan").text(p.text)
      .attr("font-family", p.math ? MATH : SANS)
      .attr("font-style", p.math && !p.upright ? "italic" : "normal")
      .attr("font-size", p.size).attr("dy", p.dy || 0);
  });
}

// ---------- panel 1: external input ----------
drawPath(zip(muT, muLo, muHi), bandOf(yMu),
  { fill: COL.noise, stroke: "#a9a9a9", "stroke-width": 2, "stroke-linejoin": "round", filter: "url(#ragged)" });
drawPath(zip(muT, muMean), lineOf(yMu), { stroke: "#000", "stroke-width": 3.6, "stroke-linejoin": "round" });
leftAxis(yMu, muTicks, -5);
rotatedLabel(40, 95, [
  { text: "μ", math: true, size: 30 },
  { text: "ext", math: true, upright: true, size: 19, dy: 6 },
  { text: " [mV/ms]", size: 19, dy: -6 }
]);
// sigma annotation with arrow
const sig = svg.append("text").attr("x", 403).attr("y", 38).attr("fill", "#111");
sig.append("tspan").text("σ").attr("font-family", MATH).attr("font-style", "italic").attr("font-size", 30);
sig.append("tspan").text("ext").attr("font-family", MATH).attr("font-size", 20).attr("dy", 5);
svg.append("path").attr("d", "M452,17 L471,42 M469.7,32.1 L471,42 L461.8,38.1")
  .attr("fill", "none").attr("stroke", "#111").attr("stroke-width", 1.6);

// ---------- panel 2: membrane potential ----------
drawPath(vTrace, lineOf(yV), { stroke: "#858585", "stroke-width": 1.2, "stroke-linejoin": "round" });
const vRows = zip(vStatT, vLo, vHi, vMean);
drawPath(vRows, bandOf(yV, d3.curveMonotoneX), { fill: "rgba(255,0,0,0.2)" });
[2, 1].forEach(k => {
  const edge = vRows.map(r => [r[0], r[k]]);
  drawPath(edge, lineOf(yV, d3.curveMonotoneX), { stroke: "rgba(255,80,80,0.35)", "stroke-width": 3.5 });
  drawPath(edge, lineOf(yV, d3.curveMonotoneX), { stroke: COL.fp, "stroke-width": 2, "stroke-dasharray": "2.5,3" });
});
drawPath(zip(vStatT, vMean), lineOf(yV, d3.curveMonotoneX), { stroke: "rgba(255,60,60,0.75)", "stroke-width": 5.5 });
drawPath(zip(vStatT, vMean), lineOf(yV, d3.curveMonotoneX), { stroke: COL.fp, "stroke-width": 3.2, "stroke-dasharray": "8,6" });
svg.append("g").selectAll("circle").data(vSpikes).join("circle")
  .attr("cx", d => x(d)).attr("cy", yV(-40)).attr("r", 3.6).attr("fill", "#000");
leftAxis(yV, vTicks, -5);
rotatedLabel(46, 248, [
  { text: "V", math: true, size: 44 },
  { text: " [mV]", size: 17 }
]);

// snapshot markers and histogram insets
snapshotT.forEach((t, i) => {
  const xm = x(t);
  svg.append("line").attr("x1", xm).attr("x2", xm).attr("y1", 279).attr("y2", 291)
    .attr("stroke", "#111").attr("stroke-width", 2.2);
  if (i === 1) {
    svg.append("line").attr("x1", xm - 5).attr("x2", xm).attr("y1", 291).attr("y2", 291)
      .attr("stroke", "#111").attr("stroke-width", 2);
  }
});

function inset(ax, yTop, yBot, Vs, Ps, side, labelX, labelY) {
  const yI = d3.scaleLinear().domain([-90, -40]).range([yBot, yTop]);
  const xI = d3.scaleLinear().domain([0, 0.1]).range([ax, ax + 100]);
  const pts = Vs.map((v, i) => [v, Ps[i]]);
  svg.append("path").datum(pts)
    .attr("d", d3.area().y(d => yI(d[0])).x0(ax).x1(d => xI(d[1])).curve(d3.curveStepAfter))
    .attr("fill", "#999");
  svg.append("line").attr("x1", ax).attr("x2", ax).attr("y1", yI(-40)).attr("y2", yI(-90))
    .attr("stroke", "#111").attr("stroke-width", 2);
  svg.append("path").datum(pts)
    .attr("d", d3.line().y(d => yI(d[0])).x(d => xI(d[1])).curve(d3.curveMonotoneY))
    .attr("fill", "none").attr("stroke", COL.fp).attr("stroke-width", 3).attr("stroke-dasharray", "6,4");
  [-40, -90].forEach(v => {
    const dir = side === "right" ? 1 : -1;
    svg.append("line").attr("x1", ax).attr("x2", ax + dir * 4).attr("y1", yI(v)).attr("y2", yI(v))
      .attr("stroke", "#111").attr("stroke-width", 1.5);
    svg.append("text").text(d3.format("d")(v))
      .attr("x", ax + dir * 7).attr("y", yI(v)).attr("dy", "0.35em")
      .attr("text-anchor", side === "right" ? "start" : "end")
      .attr("font-family", SANS).attr("font-size", 15).attr("fill", "#111");
  });
  rotatedLabel(labelX, labelY, [
    { text: "V", math: true, size: 27 },
    { text: " [mV]", size: 13 }
  ]);
  return { xI, yI };
}
inset(215, 298, 424, histV1, histP1, "right", 203, 356);
const in2 = inset(491, 286, 409, histV2, histP2, "left", 478, 345);
inset(1089, 298, 422, histV3, histP3, "left", 1076, 362);
// dotted connector from the middle snapshot to its inset
svg.append("line").attr("x1", in2.xI(0.089)).attr("y1", in2.yI(-49.5))
  .attr("x2", x(snapshotT[1]) - 7).attr("y2", 292)
  .attr("stroke", "#111").attr("stroke-width", 2).attr("stroke-dasharray", "2,4.5");

// ---------- panel 3: adaptation current ----------
drawPath(wTrace, lineOf(yW), { stroke: "#7a7a7a", "stroke-width": 1.6 });
drawPath(zip(wT, wLo, wHi), bandOf(yW, d3.curveMonotoneX), { fill: "rgba(255,0,0,0.2)" });
drawPath(zip(wT, wHi), lineOf(yW, d3.curveMonotoneX), { stroke: "rgba(255,0,0,0.22)", "stroke-width": 1.5 });
drawPath(zip(wT, wLo), lineOf(yW, d3.curveMonotoneX), { stroke: "rgba(255,0,0,0.22)", "stroke-width": 1.5 });
drawPath(zip(wT, wLNexp), lineOf(yW, d3.curveMonotoneX), { stroke: "rgba(255,30,30,0.65)", "stroke-width": 8 });
drawPath(zip(wT, wSpec1), lineOf(yW, d3.curveMonotoneX), { stroke: COL.spec1, "stroke-width": 2 });
drawPath(zip(wT, wSpec2), lineOf(yW, d3.curveMonotoneX), { stroke: COL.spec2, "stroke-width": 2 });
drawPath(zip(wT, wMean), lineOf(yW, d3.curveMonotoneX), { stroke: COL.fp, "stroke-width": 3.2, "stroke-dasharray": "8,6" });
leftAxis(yW, wTicks, -5);
rotatedLabel(41, 447, [
  { text: "w", math: true, size: 42 },
  { text: " [pA]", size: 18 }
]);

// ---------- panel 4: spike raster ----------
const dots = [];
rasterSpikes.forEach((times, i) => times.forEach(t => dots.push([t, i + 1])));
svg.append("g").selectAll("circle").data(dots).join("circle")
  .attr("cx", d => x(d[0])).attr("cy", d => yN(d[1])).attr("r", 3.6).attr("fill", "#000");
leftAxis(yN, neuronTicks, 0);
rotatedLabel(38, 598, [{ text: "neuron no.", size: 22 }]);

// ---------- panels 5 and 6: population rates ----------
function ratePanel(ys, models) {
  drawPath(netRate, lineOf(ys), { stroke: COL.net, "stroke-width": 7, "stroke-linejoin": "round", "stroke-linecap": "round" });
  models.forEach(m => drawPath(zip(rateT, m.values), lineOf(ys, d3.curveMonotoneX),
    { stroke: m.color, "stroke-width": m.width, "stroke-linejoin": "round" }));
  drawPath(zip(rateT, rateFP), lineOf(ys, d3.curveMonotoneX), { stroke: COL.fp, "stroke-width": 3.4, "stroke-dasharray": "8,6" });
  leftAxis(ys, rateTicks, -5);
}
ratePanel(yR1, [{ values: rateLNdos, color: COL.lnDos, width: 2.6 }, { values: rateLNexp, color: COL.lnExp, width: 3 }]);
ratePanel(yR2, [{ values: rateSpec1, color: COL.spec1, width: 2.6 }, { values: rateSpec2, color: COL.spec2, width: 2.6 }]);
[775, 930].forEach(cy => rotatedLabel(41, cy, [
  { text: "r", math: true, size: 31 },
  { text: "N", math: true, size: 20, dy: 6 },
  { text: ", r", math: true, size: 31, dy: -6 },
  { text: " [Hz]", size: 16 }
]));

// legends
function legendLine(x0, y0, color, width, dash) {
  const l = svg.append("line").attr("x1", x0).attr("x2", x0 + 32).attr("y1", y0).attr("y2", y0)
    .attr("stroke", color).attr("stroke-width", width);
  if (dash) l.attr("stroke-dasharray", dash);
}
function legendText(x0, y0, main, sub, tail) {
  const t = svg.append("text").attr("x", x0).attr("y", y0).attr("font-family", SANS).attr("font-size", 28).attr("fill", "#111");
  t.append("tspan").text(main);
  if (sub) {
    t.append("tspan").text(sub).attr("font-size", 20).attr("dy", 7);
    t.append("tspan").text(tail).attr("dy", -7);
  }
}
legendLine(354, 812, COL.net, 6);
legendText(397, 822, legendLeft[0]);
legendLine(354, 850, COL.fp, 4, "11,7");
legendText(397, 860, legendLeft[1]);
[[702, COL.lnExp, legendTop[0]], [738, COL.lnDos, legendTop[1]], [860, COL.spec1, legendBottom[0]], [896, COL.spec2, legendBottom[1]]]
  .forEach(([yy, c, lab]) => {
    legendLine(1052, yy, c, 4.5);
    legendText(1097, yy + 10, lab[0], lab[1], " model");
  });

// time scale bar
svg.append("line").attr("x1", x(scaleBar.start)).attr("x2", x(scaleBar.start + scaleBar.length))
  .attr("y1", 978).attr("y2", 978).attr("stroke", "#000").attr("stroke-width", 3);
svg.append("text").text(scaleBar.label)
  .attr("x", (x(scaleBar.start) + x(scaleBar.start + scaleBar.length)) / 2).attr("y", 1004)
  .attr("text-anchor", "middle").attr("font-family", SANS).attr("font-size", 23).attr("fill", "#111");
</script>
</body>
</html>
